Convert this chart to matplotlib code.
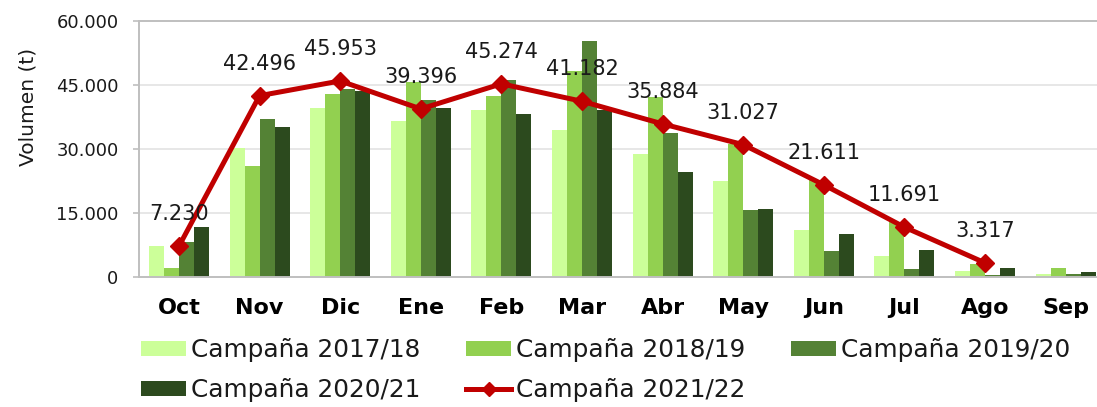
import matplotlib
matplotlib.use('Agg')
import matplotlib.pyplot as plt
from matplotlib.lines import Line2D
from matplotlib.ticker import FuncFormatter
import numpy as np

months = ['Oct', 'Nov', 'Dic', 'Ene', 'Feb', 'Mar', 'Abr', 'May', 'Jun', 'Jul', 'Ago', 'Sep']
camp_1718 = [7200, 30300, 39600, 36600, 39200, 34500, 28900, 22500, 11100, 5000, 1400, 700]
camp_1819 = [2200, 26100, 42800, 45800, 42400, 48300, 42200, 31200, 22700, 13000, 3000, 2100]
camp_1920 = [8100, 37000, 44100, 41500, 46100, 55400, 33800, 15600, 6200, 1800, 450, 800]
camp_2021 = [11700, 35100, 43500, 39600, 38300, 39200, 24700, 15900, 10100, 6300, 2100, 1100]
camp_2122 = [7230, 42496, 45953, 39396, 45274, 41182, 35884, 31027, 21611, 11691, 3317, np.nan]
labels = ['Campaña 2017/18', 'Campaña 2018/19', 'Campaña 2019/20',
          'Campaña 2020/21', 'Campaña 2021/22']

bar_colors = ['#CCFF99', '#92D050', '#548235', '#2C4A1E']
line_color = '#C00000'
text_color = '#1A1A1A'

plt.rcParams['font.family'] = ['DejaVu Sans']

fig = plt.figure(figsize=(10.97, 4.07), dpi=100)
ax = fig.add_axes([0.1264, 0.3194, 0.8817, 0.629])

x = np.arange(len(months))
w = 0.186
bars = []
for i, (vals, col) in enumerate(zip([camp_1718, camp_1819, camp_1920, camp_2021], bar_colors)):
    b = ax.bar(x + (i - 1.5) * w, vals, width=w, color=col, zorder=2, label=labels[i])
    bars.append(b)

ax.plot(x, camp_2122, color=line_color, lw=3.6, marker='D', markersize=9,
        zorder=3, solid_joinstyle='miter')
for xi, v in zip(x, camp_2122):
    if np.isnan(v):
        continue
    s = f'{int(v):,}'.replace(',', '.')
    ax.annotate(s, (xi, v), xytext=(0, 23), textcoords='offset points',
                ha='center', va='center', fontsize=15, color=text_color, zorder=4)

ax.set_xlim(-0.5, len(months) - 0.5)
ax.set_ylim(0, 60000)
ax.set_yticks(np.arange(0, 60001, 15000))
ax.yaxis.set_major_formatter(FuncFormatter(lambda v, p: f'{int(v):,}'.replace(',', '.')))
ax.grid(axis='y', color='#E3E3E3', lw=1.2, zorder=0)
ax.set_axisbelow(True)
for sp in ax.spines.values():
    sp.set_color('#BFBFBF')
    sp.set_linewidth(1.4)

ax.set_xticks(x)
ax.set_xticklabels(months, fontweight='bold', fontsize=16, color='black')
ax.tick_params(axis='x', length=0, pad=15)
ax.tick_params(axis='y', length=4.5, width=1.2, color='#BFBFBF', pad=10,
               labelsize=13, labelcolor=text_color)

ax.set_ylabel('Volumen (t)', fontsize=14.5, color=text_color)
ax.yaxis.set_label_coords(-0.105, 0.664)

line_handle = Line2D([], [], color=line_color, lw=3.6, marker='D', markersize=7)
handles = [bars[0], bars[3], bars[1], line_handle, bars[2]]
order_labels = [labels[0], labels[3], labels[1], labels[4], labels[2]]
fig.legend(handles, order_labels, ncol=3, loc='upper left',
           bbox_to_anchor=(141 / 1097, 1 - 338 / 407), bbox_transform=fig.transFigure,
           frameon=False, fontsize=17.8, handlelength=1.82, handleheight=0.57,
           handletextpad=0.2, columnspacing=1.85, labelspacing=0.66,
           borderpad=0, borderaxespad=0, labelcolor=text_color)

fig.savefig('out.png', dpi=100)
